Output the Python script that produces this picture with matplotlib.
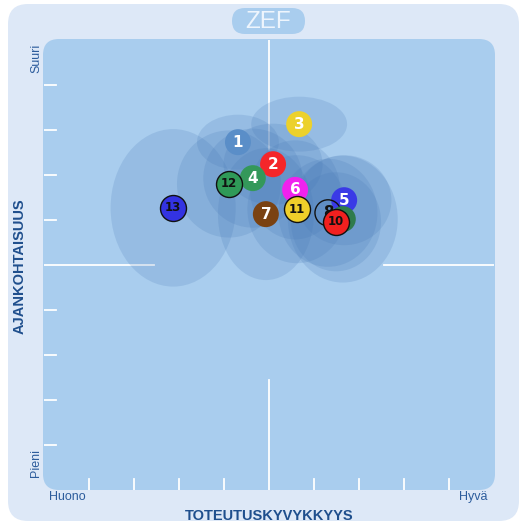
import matplotlib
matplotlib.use('Agg')
import matplotlib.pyplot as plt
from matplotlib.patches import FancyBboxPatch, Ellipse

# data: position of each item (0..10 scale) and its spread (ellipse size)
labels = ['1', '2', '3', '4', '5', '6', '7', '8', '9', '10', '11', '12', '13']
x_vals = [4.31, 5.09, 5.67, 4.64, 6.67, 5.58, 4.93, 6.31, 6.64, 6.49, 5.62, 4.11, 2.87]
y_vals = [7.73, 7.24, 8.13, 6.93, 6.44, 6.67, 6.13, 6.16, 6.02, 5.96, 6.24, 6.80, 6.27]
spread_x = [1.82, 2.20, 2.13, 2.20, 2.10, 2.00, 2.13, 2.20, 2.44, 2.00, 2.20, 2.31, 2.78]
spread_y = [1.22, 1.80, 1.22, 2.20, 2.00, 2.20, 2.93, 2.40, 2.82, 2.20, 2.40, 2.38, 3.50]
fills = ['#5a8ec8', '#f4262a', '#ecd12c', '#34985a', '#3a3ae6', '#f022ee', '#7a4212',
         'none', '#2f7b4c', '#f2201f', '#efcf2a', '#2f9a58', '#3333e2']
edges = ['none'] * 7 + ['#111111'] + ['none'] + ['#111111'] * 4
txt_cols = ['white'] * 7 + ['#111111'] * 6

x_ticks = [1, 2, 3, 4, 6, 7, 8, 9]
y_ticks = [1, 2, 3, 4, 6, 7, 8, 9]

W, H = 525, 524
fig = plt.figure(figsize=(W / 100, H / 100), dpi=100)

# background in pixel coords
bg = fig.add_axes([0, 0, 1, 1])
bg.set_xlim(0, W)
bg.set_ylim(H, 0)
bg.axis('off')
bg.add_patch(FancyBboxPatch((8, 4), 511, 517, boxstyle='round,pad=0,rounding_size=20',
                            fc='#dde8f7', ec='none'))
bg.add_patch(FancyBboxPatch((43, 39), 452, 451, boxstyle='round,pad=0,rounding_size=16',
                            fc='#a9cdee', ec='none'))
bg.add_patch(FancyBboxPatch((232, 8), 73, 26, boxstyle='round,pad=0,rounding_size=13',
                            fc='#a9cdee', ec='none'))
bg.text(268.5, 22, 'ZEF', color='#eef5fd', fontsize=17.5, ha='center', va='center',
        family='Liberation Sans')
bg.text(269, 516, 'TOTEUTUSKYVYKKYYS', color='#1f4f8d', fontsize=10.5, fontweight='bold',
        ha='center', va='center', family='Liberation Sans')
bg.text(20, 266, 'AJANKOHTAISUUS', color='#1f4f8d', fontsize=10.5, fontweight='bold',
        ha='center', va='center', rotation=90, family='Liberation Sans')
bg.text(49, 497, 'Huono', color='#2c5c9c', fontsize=9, ha='left', va='center',
        family='Liberation Sans')
bg.text(487, 497, 'Hyvä', color='#2c5c9c', fontsize=9, ha='right', va='center',
        family='Liberation Sans')
bg.text(36, 58, 'Suuri', color='#2c5c9c', fontsize=9, ha='center', va='center',
        rotation=90, family='Liberation Sans')
bg.text(36, 463, 'Pieni', color='#2c5c9c', fontsize=9, ha='center', va='center',
        rotation=90, family='Liberation Sans')

# main plot area
ax = fig.add_axes([44 / W, (H - 490) / H, 450 / W, 450 / H])
ax.set_xlim(0, 10)
ax.set_ylim(0, 10)
ax.axis('off')
ax.patch.set_alpha(0)

# crosshair (hidden in the middle) + ticks
for a, b in [(0, 2.45), (7.55, 10)]:
    ax.plot([5, 5], [a, b], color='white', lw=1.3, zorder=1)
    ax.plot([a, b], [5, 5], color='white', lw=1.3, zorder=1)
for t in x_ticks:
    ax.plot([t, t], [0, 0.25], color='white', lw=1.3, zorder=1)
for t in y_ticks:
    ax.plot([0, 0.27], [t, t], color='white', lw=1.3, zorder=1)

# spread ellipses
for x, y, w, h in zip(x_vals, y_vals, spread_x, spread_y):
    ax.add_patch(Ellipse((x, y), w, h, fc='#4577b5', ec='none', alpha=0.19, zorder=2))

# markers + numbers
for i, lab in enumerate(labels):
    ax.scatter(x_vals[i], y_vals[i], s=350, c=fills[i], edgecolors=edges[i],
               linewidths=1.0, zorder=3 + i * 2)
    fs = 11 if len(lab) == 1 else 8.5
    ax.text(x_vals[i], y_vals[i], lab, color=txt_cols[i], fontsize=fs, fontweight='bold',
            ha='center', va='center', zorder=4 + i * 2)

fig.savefig('out.png', dpi=100)
